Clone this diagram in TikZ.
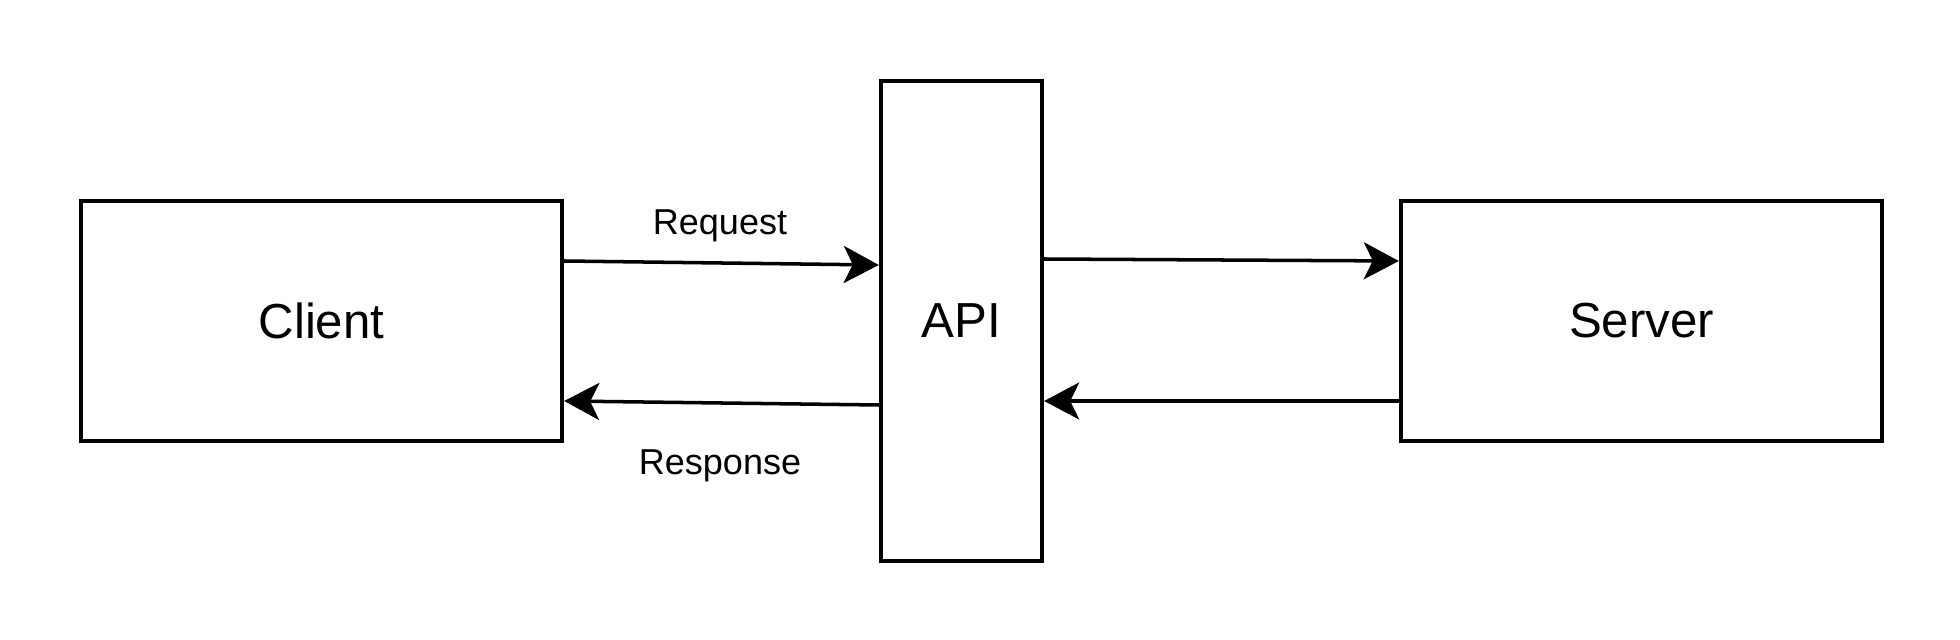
\documentclass[tikz,border=0pt]{standalone}
\usepackage{fontspec}
\setmainfont{Liberation Sans}
\usetikzlibrary{arrows.meta, positioning}

\tikzset{
  block/.style={draw, line width=2.5pt, minimum width=9.62cm, minimum height=4.8cm, font=\fontsize{28}{32}\selectfont},
  flow/.style={line width=2pt, -{Stealth[length=7mm, width=7.4mm, inset=1.8mm]}},
  lbl/.style={font=\fontsize{20.5}{24}\selectfont}
}

\begin{document}
\begin{tikzpicture}

  % Canvas
  \useasboundingbox (0,0) rectangle (39.2,-12.8);

  % Boxes
  \node[block] (client) at (6.43,-6.42) {Client};
  \node[block, minimum width=3.22cm, minimum height=9.6cm] (api) at (19.23,-6.42) {API};
  \node[block] (server) at (32.83,-6.42) {Server};

  % Client <-> API
  \draw[flow] ([yshift=1.2cm]client.east) -- ([yshift=1.12cm]api.west);
  \draw[flow] ([yshift=-1.68cm]api.west) -- ([yshift=-1.6cm]client.east);
  \node[lbl] (req) at (14.4,-4.52) {Request};
  \node[lbl] (resp) at (14.4,-9.32) {Response};

  % API <-> Server
  \draw[flow] ([yshift=1.24cm]api.east) -- ([yshift=1.2cm]server.west);
  \draw[flow] ([yshift=-1.6cm]server.west) -- ([yshift=-1.6cm]api.east);

\end{tikzpicture}
\end{document}
